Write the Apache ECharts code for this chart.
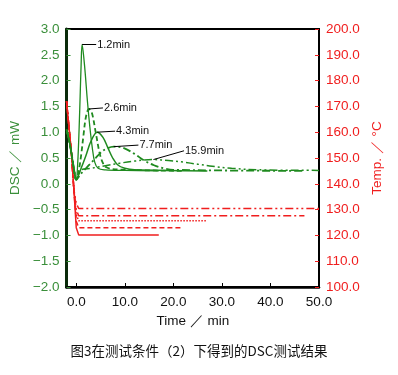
<!DOCTYPE html>
<html><head><meta charset="utf-8">
<script src="https://cdn.jsdelivr.net/npm/echarts@6/dist/echarts.min.js"></script>
<style>html,body{margin:0;padding:0;background:#fff}#c{width:398px;height:375px}</style>
</head><body><div id="c"></div>
<script>
// ---- data (time in min, DSC in mW, temp in °C) ----
const xTicks = [0, 10, 20, 30, 40, 50];
const peakLabels = ['1.2min', '2.6min', '4.3min', '7.7min', '15.9min'];
const dsc12 = [[-2,1.05],[-1.5,0.85],[-1,0.6],[-0.5,0.3],[0,0.08],[0.3,0.4],[0.6,1.1],[0.8,1.7],[1.0,2.3],[1.2,2.7],[1.7,2.3],[2.3,1.6],[2.8,1.1],[3.3,0.7],[3.8,0.42],[4.5,0.3],[6,0.27],[10,0.26],[17,0.25]];
const dsc26 = [[-2,1.05],[-1.5,0.85],[-1,0.6],[-0.5,0.3],[0,0.08],[0.5,0.25],[1,0.55],[1.5,0.95],[2,1.3],[2.6,1.45],[3.2,1.38],[4,1.0],[4.8,0.6],[5.5,0.4],[6.2,0.32],[8,0.28],[22,0.25]];
const dsc43 = [[-2,1.05],[-1.5,0.85],[-1,0.6],[-0.5,0.3],[0,0.08],[1,0.3],[2,0.55],[3,0.82],[4.3,1.0],[5.5,0.9],[6.5,0.7],[7.5,0.5],[8.5,0.37],[10,0.3],[12,0.27],[27,0.25]];
const dsc77 = [[-2,1.05],[-1.5,0.85],[-1,0.6],[-0.5,0.3],[0,0.08],[1,0.2],[2,0.3],[3,0.4],[4,0.5],[5,0.6],[6,0.67],[7.7,0.72],[9.6,0.7],[12,0.58],[14,0.45],[16,0.36],[18,0.3],[20,0.27],[47,0.25]];
const dsc159 = [[-2,1.05],[-1.5,0.85],[-1,0.6],[-0.5,0.3],[0,0.08],[1,0.27],[3,0.3],[6,0.35],[9,0.4],[12,0.44],[15.9,0.47],[19,0.45],[22,0.42],[25,0.38],[28,0.34],[32,0.3],[38,0.27],[50,0.26]];
const temp12 = [[-2,172],[-1,152],[-0.5,138],[0,123],[0.5,120.2],[17,120.2]];
const temp26 = [[-2,172],[-1,152],[-0.5,138],[0,125.5],[0.5,123],[22,123]];
const temp43 = [[-2,172],[-1,152],[-0.5,138],[0,128],[0.5,125.7],[27,125.7]];
const temp77 = [[-2,172],[-1,152],[-0.5,138],[0,130],[0.5,127.6],[47,127.6]];
const temp159 = [[-2,172],[-1,152],[-0.5,138],[0,132.5],[0.5,130.4],[50,130.4]];
const peaks = [[1.2,2.7],[2.6,1.45],[4.3,1.0],[7.7,0.72],[15.9,0.47]];

// ---- presentation ----
const labelEnds = [[4.1,2.7],[5.5,1.47],[8.0,1.02],[12.8,0.75],[22.2,0.64]];
const GREEN = '#1f8a1f', GLAB = '#3a8f3a', RED = '#f01e1e';
const styles = ['solid', [5,3], 'solid', [8,3,2,3], [8,3,2,3,2,3]];
const widths = [1.3, 1.8, 1.5, 1.8, 1.5];
const dscData = [dsc12, dsc26, dsc43, dsc77, dsc159];
const tempData = [temp12, temp26, temp43, temp77, temp159];
const FONT = '"Liberation Sans", Arial, sans-serif';
const minus = v => String(v).replace('-', '−');

const series = [];
dscData.forEach((d, i) => {
  series.push({
    type: 'line', yAxisIndex: 0, data: d, showSymbol: false, smooth: 0.35,
    lineStyle: { color: GREEN, width: widths[i], type: styles[i] }, z: 3,
    markLine: {
      silent: true, symbol: ['none', 'none'], animation: false,
      lineStyle: { color: '#000', width: 1, type: 'solid' },
      label: { show: true, position: 'end', formatter: peakLabels[i], color: '#111', fontSize: 11, fontFamily: FONT, distance: 1 },
      data: [[{ coord: peaks[i] }, { coord: labelEnds[i] }]]
    }
  });
});
tempData.forEach((d, i) => {
  series.push({
    type: 'line', yAxisIndex: 1, data: d, showSymbol: false,
    lineStyle: { color: RED, width: 1.5, type: i === 2 ? [1.5,1.5] : styles[i] }, z: 2
  });
});

const chart = echarts.init(document.getElementById('c'), null, { renderer: 'canvas' });
chart.setOption({
  animation: false,
  backgroundColor: '#fff',
  textStyle: { fontFamily: FONT },
  grid: { left: 63, right: 79, top: 29, bottom: 88, show: true, borderColor: '#000', borderWidth: 2, backgroundColor: 'transparent' },
  title: {
    text: '图3在测试条件（2）下得到的DSC测试结果', left: 'center', top: 339,
    textStyle: { fontSize: 13.5, fontWeight: 'normal', color: '#111', fontFamily: '"Noto Sans CJK SC", sans-serif' }
  },
  xAxis: {
    type: 'value', min: -2, max: 50,
    name: 'Time ／ min', nameLocation: 'middle', nameGap: 27,
    nameTextStyle: { color: '#111', fontSize: 13.5, fontFamily: FONT },
    axisLine: { show: true, onZero: false, lineStyle: { color: '#000', width: 2.5 } },
    axisTick: { inside: true, length: 4, lineStyle: { color: '#000' }, customValues: xTicks },
    axisLabel: { color: '#111', fontSize: 13.5, customValues: xTicks, formatter: v => v.toFixed(1), margin: 8 },
    splitLine: { show: false }
  },
  yAxis: [{
    type: 'value', min: -2, max: 3, interval: 0.5, position: 'left',
    name: 'DSC ／ mW', nameLocation: 'middle', nameGap: 33, nameRotate: 90,
    nameTextStyle: { color: GLAB, fontSize: 13.5, fontFamily: FONT },
    axisLine: { show: true, onZero: false, lineStyle: { color: '#0a2a0a', width: 3 } },
    axisTick: { show: true, inside: true, length: 4, lineStyle: { color: GLAB } },
    axisLabel: { color: GLAB, fontSize: 13.5, formatter: v => minus(v.toFixed(1)), margin: 7 },
    splitLine: { show: false }
  }, {
    type: 'value', min: 100, max: 200, interval: 10, position: 'right',
    name: 'Temp. ／ °C', nameLocation: 'middle', nameGap: 48, nameRotate: 90,
    nameTextStyle: { color: RED, fontSize: 13.5, fontFamily: FONT },
    axisLine: { show: true, onZero: false, lineStyle: { color: '#000', width: 2 } },
    axisTick: { show: true, inside: true, length: 4, lineStyle: { color: RED } },
    axisLabel: { color: RED, fontSize: 13.5, formatter: v => v.toFixed(1), margin: 7 },
    splitLine: { show: false }
  }],
  series
});
</script></body></html>
